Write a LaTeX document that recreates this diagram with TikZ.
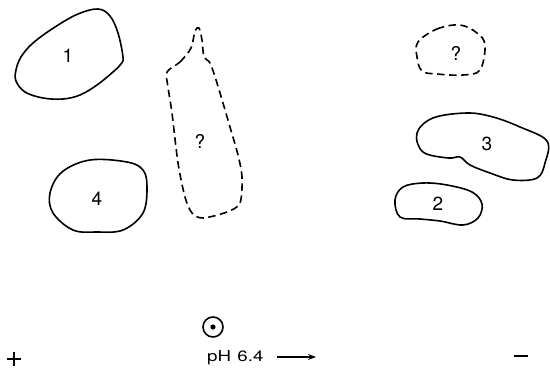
\documentclass[tikz,border=0pt]{standalone}
\usepackage{fontspec}
\setmainfont{TeX Gyre Heros}
\usetikzlibrary{arrows.meta}
\begin{document}
\begin{tikzpicture}[x=1pt,y=-1pt,
  spot/.style={line width=1.6pt, line join=round},
  faint/.style={spot, dash pattern=on 7.5pt off 4.5pt},
  spotlabel/.style={font=\fontsize{19}{19}\selectfont, inner sep=0pt},
  axislabel/.style={font=\fontsize{15}{15}\selectfont, inner sep=0pt},
  bar/.style={line width=1.9pt}]
\useasboundingbox (0,0) rectangle (550,369);

% spot 1
\draw[spot] plot[smooth cycle, tension=0.6] coordinates {
  (16,70) (21,57) (33,43) (55,27) (78,14) (98,9) (110,16) (118,33)
  (123,57) (121,64) (113,72) (97,85) (80,95) (63,99) (43,98) (25,92) (16,81)};
\node[spotlabel] (s1) at (68,56) {1};

% spot 4
\draw[spot] plot[smooth cycle, tension=0.6] coordinates {
  (50,193) (62,172) (90,160) (127,162) (143,170) (147,187) (143,213)
  (123,230) (97,232) (73,230) (53,213)};
\node[spotlabel] (s4) at (97,199) {4};

% faint elongated spot
\draw[faint] plot[smooth cycle, tension=0.5] coordinates {
  (167,72) (180,62) (191,48) (195,31) (199,28) (202,40) (204,57) (210,63)
  (217,83) (230,127) (238,155) (242,177) (240,203) (227,212) (203,218)
  (192,213) (185,197) (178,163) (172,113) (168,87)};
\node[spotlabel] (sq1) at (200,141) {?};

% faint small spot
\draw[faint] plot[smooth cycle, tension=0.6] coordinates {
  (418,42) (437,29) (460,25) (477,33) (485,45) (480,70) (463,75)
  (437,74) (422,71) (417,57)};
\node[spotlabel] (sq2) at (456,53) {?};

% spot 3
\draw[spot] plot[smooth cycle, tension=0.6] coordinates {
  (417,133) (433,118) (467,113) (493,117) (520,127) (547,141) (545,163)
  (537,178) (513,180) (490,173) (470,165) (460,157) (448,158) (423,152)};
\node[spotlabel] (s3) at (487,144) {3};

% spot 2
\draw[spot] plot[smooth cycle, tension=0.6] coordinates {
  (395,200) (403,187) (423,183) (447,185) (472,192) (482,204) (478,218)
  (463,225) (440,221) (420,219) (400,217)};
\node[spotlabel] (s2) at (438,204) {2};

% origin mark
\node[circle, draw, line width=1.6pt, minimum size=20pt, inner sep=0pt] (origin) at (213,327) {};
\fill (origin.center) circle (2.6pt);

% electrodes
\node[minimum size=13pt, inner sep=0pt] (plus) at (14,359) {};
\draw[bar] (plus.west) -- (plus.east) (plus.north) -- (plus.south);
\node[minimum width=14pt, minimum height=2pt, inner sep=0pt] (minus) at (521,356) {};
\draw[bar] (minus.west) -- (minus.east);

% direction of migration
\node[axislabel, anchor=west] (ph) at (207,357.5) {\scalebox{1.25}[1]{pH\,\,6.4}};
\coordinate (tail) at (277,357);
\coordinate (tip) at (316,357);
\draw[line width=1.3pt, -{Stealth[length=8pt,width=6pt]}] (tail) -- (tip);
\end{tikzpicture}
\end{document}
